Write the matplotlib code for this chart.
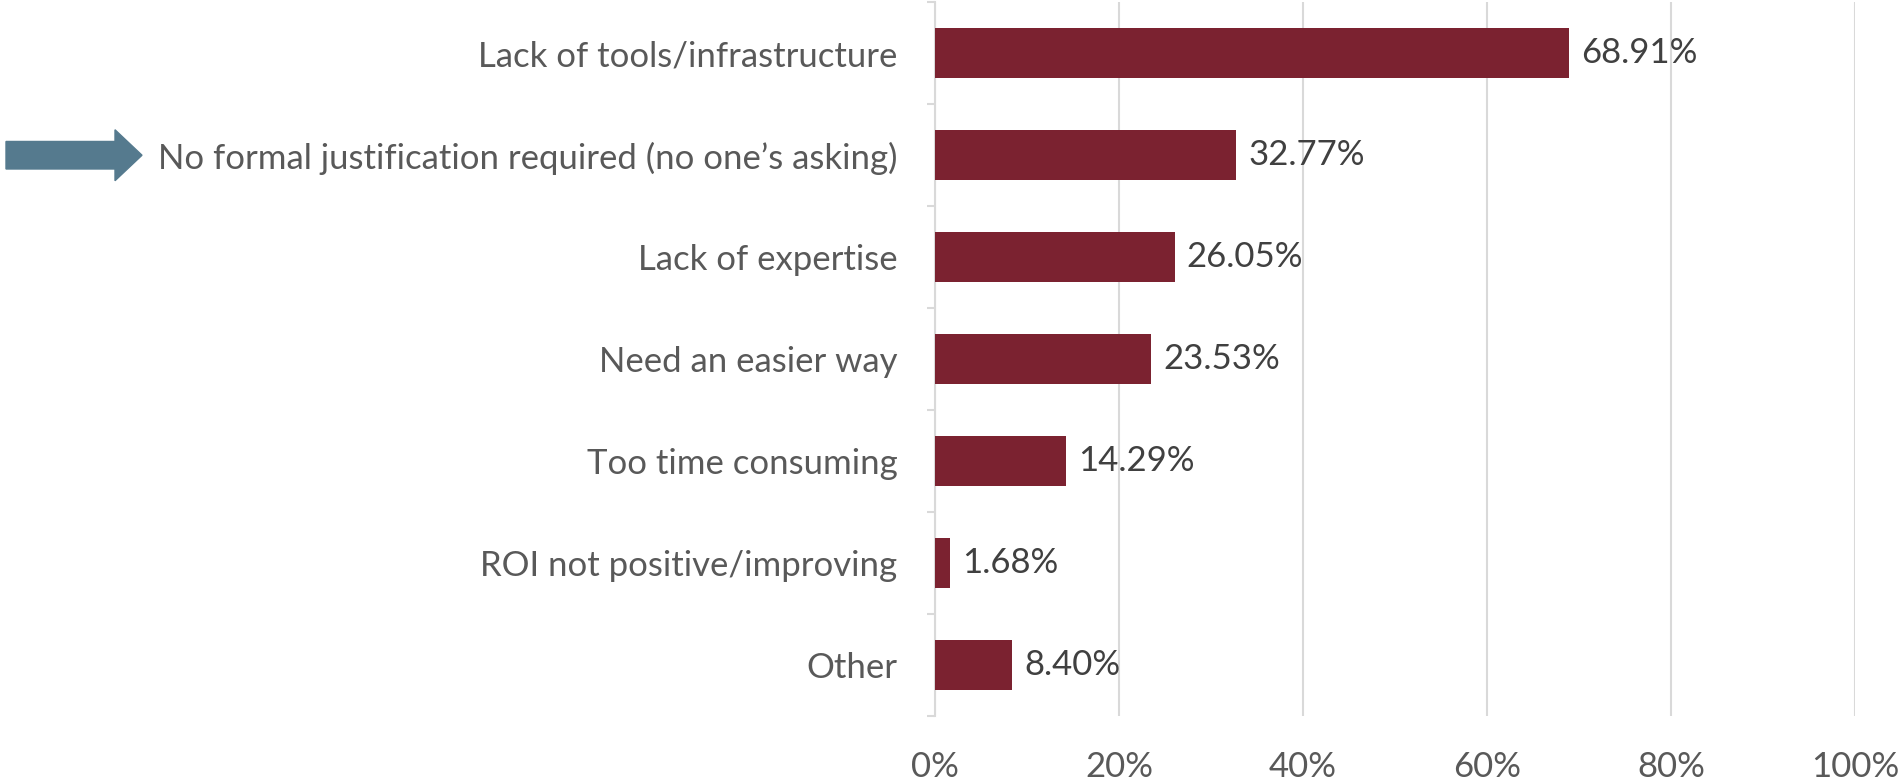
import matplotlib
matplotlib.use("Agg")
import matplotlib.pyplot as plt
from matplotlib.patches import Polygon
from matplotlib.transforms import blended_transform_factory

# Survey responses: obstacles to measuring results
categories = [
    "Lack of tools/infrastructure",
    "No formal justification required (no one\u2019s asking)",
    "Lack of expertise",
    "Need an easier way",
    "Too time consuming",
    "ROI not positive/improving",
    "Other",
]
shares = [68.91, 32.77, 26.05, 23.53, 14.29, 1.68, 8.40]
x_ticks = [0, 20, 40, 60, 80, 100]
highlight = 1  # row pointed at by the arrow

BAR = "#7B2230"
GRID = "#D9D9D9"
LABEL = "#595959"
VALUE = "#404040"
ARROW = "#557A8E"

plt.rcParams["font.family"] = ["Lato", "DejaVu Sans"]

fig = plt.figure(figsize=(19.01, 7.84), dpi=100)
ax = fig.add_axes([0.4918, 0.0870, 0.4840, 0.9100])

ypos = list(range(len(categories)))
ax.barh(ypos, shares, height=0.49, color=BAR, zorder=3)
for y, v in zip(ypos, shares):
    ax.text(v + 1.3, y, f"{v:.2f}%", va="center", ha="left",
            fontsize=25, color=VALUE, zorder=4)

ax.set_xlim(0, 100)
ax.set_ylim(len(categories) - 0.5, -0.5)
ax.set_xticks(x_ticks)
ax.set_xticklabels([f"{t}%" for t in x_ticks])
ax.set_yticks(ypos)
ax.set_yticklabels(categories)
ax.set_yticks([i + 0.5 for i in range(-1, len(categories))], minor=True)

ax.grid(axis="x", color=GRID, linewidth=1.5, zorder=0)
ax.tick_params(axis="x", length=0, pad=25, labelsize=25, labelcolor=LABEL)
ax.tick_params(axis="y", which="major", length=0, pad=27, labelsize=25, labelcolor=LABEL)
ax.tick_params(axis="y", which="minor", length=6, width=1.5, color=GRID)
for side in ["top", "right", "bottom"]:
    ax.spines[side].set_visible(False)
ax.spines["left"].set_color(GRID)
ax.spines["left"].set_linewidth(1.5)

# block arrow in the left margin, x in figure fraction, y in data units
tr = blended_transform_factory(fig.transFigure, ax.transData)
x0, xh, x1 = 6 / 1901, 115 / 1901, 142 / 1901
body, head = 0.135, 0.25
arrow = Polygon([
    (x0, highlight - body), (xh, highlight - body), (xh, highlight - head),
    (x1, highlight), (xh, highlight + head), (xh, highlight + body),
    (x0, highlight + body)], closed=True, transform=tr, color=ARROW,
    clip_on=False)
fig.patches.append(arrow)

fig.savefig("out.png", dpi=100)
